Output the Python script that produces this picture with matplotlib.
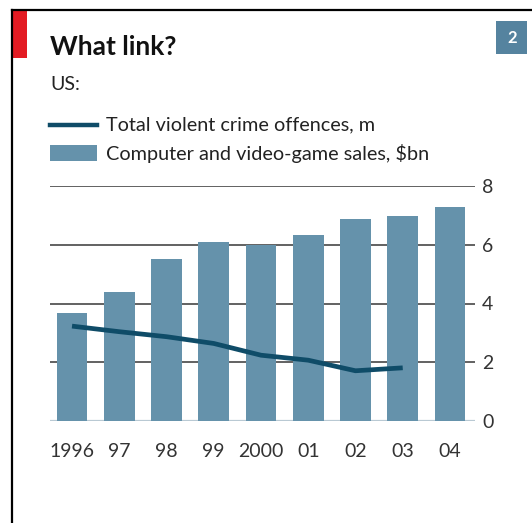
import matplotlib
matplotlib.use("Agg")
import matplotlib.pyplot as plt
from matplotlib.lines import Line2D
from matplotlib.patches import Rectangle

years = ["1996", "97", "98", "99", "2000", "01", "02", "03", "04"]
sales = [3.66, 4.38, 5.50, 6.09, 5.98, 6.33, 6.87, 6.98, 7.27]
crime = [3.23, 3.04, 2.87, 2.64, 2.24, 2.07, 1.71, 1.81]
yticks = [0, 2, 4, 6, 8]

BAR = "#6592ab"
LINE = "#0f4c68"
FONT = ["Lato", "DejaVu Sans"]

W, H = 532, 523
fig = plt.figure(figsize=(W / 100, H / 100), dpi=100)
fig.patch.set_facecolor("white")

def fx(px):
    return px / W

def fy(py):
    return 1 - py / H

# frame
fig.add_artist(Line2D([fx(12), fx(532)], [fy(10), fy(10)], color="black", lw=1.6))
fig.add_artist(Line2D([fx(12), fx(12)], [fy(10), fy(523)], color="black", lw=1.6))
# red tab
fig.add_artist(Rectangle((fx(12), fy(58)), fx(15), fy(10) - fy(58), color="#e31b23", lw=0))
# number box
fig.add_artist(Rectangle((fx(496), fy(54)), fx(31), fy(21) - fy(54), color="#55839f", lw=0))
fig.text(fx(512), fy(38), "2", color="white", fontsize=12, fontweight="bold",
         ha="center", va="center", family=FONT)

fig.text(fx(50), fy(47), "What link?", fontsize=19, fontweight="bold",
         ha="left", va="center", family=FONT, color="#111111")
fig.text(fx(50), fy(84), "US:", fontsize=14, ha="left", va="center",
         family=FONT, color="#222222")

# legend
fig.add_artist(Line2D([fx(50), fx(97)], [fy(125), fy(125)], color=LINE, lw=3.2))
fig.text(fx(106), fy(125), "Total violent crime offences, m", fontsize=14.3,
         ha="left", va="center", family=FONT, color="#222222")
fig.add_artist(Rectangle((fx(50), fy(161)), fx(47), fy(145) - fy(161), color=BAR, lw=0))
fig.text(fx(106), fy(153), "Computer and video-game sales, $bn", fontsize=14.3,
         ha="left", va="center", family=FONT, color="#222222")

ax = fig.add_axes([fx(50), fy(421), fx(475) - fx(50), fy(186) - fy(421)])
x = list(range(len(years)))
ax.bar(x, sales, width=0.65, color=BAR, zorder=2)
ax.plot(x[:len(crime)], crime, color=LINE, lw=3.4, zorder=3, solid_capstyle="butt")
ax.set_xlim(-0.466, 8.53)
ax.set_ylim(0, 8)
for v in yticks:
    if v == 0:
        ax.axhline(v, color="#b9c9d3", lw=1.6, zorder=1)
    else:
        ax.axhline(v, color="#555555", lw=1.3, zorder=1)
for s in ax.spines.values():
    s.set_visible(False)
ax.set_xticks(x)
ax.set_xticklabels(years, family=FONT, fontsize=14, color="#333333")
ax.set_yticks(yticks)
ax.set_yticklabels([str(v) for v in yticks], family=FONT, fontsize=14, color="#333333")
ax.yaxis.tick_right()
ax.tick_params(axis="y", length=0, pad=5)
ax.tick_params(axis="x", length=0, pad=16)
ax.patch.set_alpha(0)

fig.savefig("out.png", dpi=100, facecolor="white")
